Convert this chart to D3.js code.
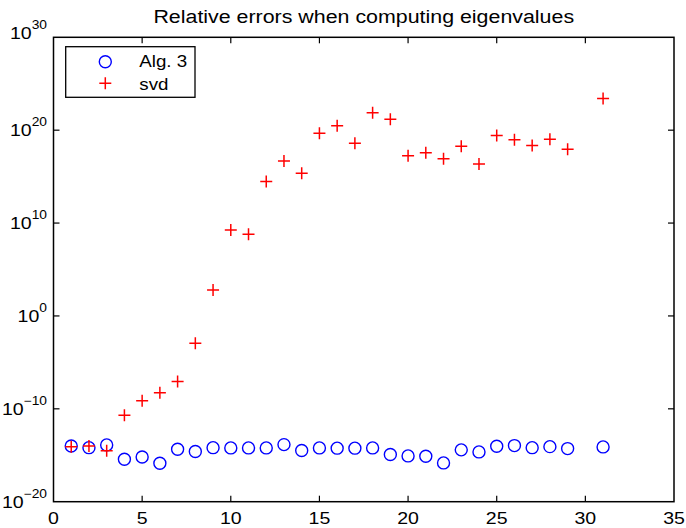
<!DOCTYPE html>
<html><head><meta charset="utf-8">
<script src="https://cdn.jsdelivr.net/npm/d3@7"></script>
<style>body{margin:0;background:#fff}svg{display:block;font-family:"Liberation Sans",Arial,Helvetica,sans-serif}</style>
</head><body><svg id="c" width="686" height="528"></svg>
<script>
const xIdx = [1,2,3,4,5,6,7,8,9,10,11,12,13,14,15,16,17,18,19,20,21,22,23,24,25,26,27,28,29,31];
const alg3 = [1.0e-14,6.6e-15,1.3e-14,3.7e-16,6.6e-16,1.4e-16,4.5e-15,2.5e-15,6.6e-15,6.2e-15,6.2e-15,6.2e-15,1.4e-14,3.2e-15,6.2e-15,5.8e-15,5.8e-15,6.2e-15,1.2e-15,8.5e-16,7.9e-16,1.5e-16,3.8e-15,2.3e-15,9.3e-15,1.1e-14,6.6e-15,8.5e-15,5.2e-15,7.9e-15];
const svd = [8.5e-15,1.0e-14,3.0e-15,2.0e-11,7.6e-10,5.5e-9,8.5e-8,1.15e-3,6.3e2,1.8e9,6.3e8,2.9e14,4.8e16,2.3e15,4.7e19,3.0e20,3.9e18,7.6e21,1.5e21,1.8e17,3.8e17,8.5e16,1.9e18,2.3e16,2.6e19,9.5e18,2.3e18,1.05e19,8.7e17,2.5e23];
const xTicks = [0,5,10,15,20,25,30,35];
const yTickExps = [-20,-10,0,10,20,30];
const title = "Relative errors when computing eigenvalues";
const seriesNames = ["Alg. 3","svd"];

const svg = d3.select("#c");
const L=53.5, R=674, T=37.3, B=501.7;
const SX=1.15;
const x = d3.scaleLinear().domain([0,35]).range([L,R]);
const y = d3.scaleLog().domain([1e-20,1e30]).range([B,T]);

function txt(px,py,size,anchor){
  return svg.append("text").attr("transform",`translate(${px},${py}) scale(${SX},1)`)
    .attr("text-anchor",anchor).attr("font-size",size).attr("fill","#000");
}

const tl = 6;
const g = svg.append("g");
xTicks.forEach(t=>{
  if(t===0||t===35) return;
  g.append("line").attr("x1",x(t)).attr("x2",x(t)).attr("y1",B).attr("y2",B-tl).attr("stroke","#000").attr("stroke-width",1.2);
  g.append("line").attr("x1",x(t)).attr("x2",x(t)).attr("y1",T).attr("y2",T+tl).attr("stroke","#000").attr("stroke-width",1.2);
});
yTickExps.forEach(e=>{
  const v=Math.pow(10,e);
  if(e===-20||e===30) return;
  g.append("line").attr("x1",L).attr("x2",L+tl).attr("y1",y(v)).attr("y2",y(v)).attr("stroke","#000").attr("stroke-width",1.2);
  g.append("line").attr("x1",R).attr("x2",R-tl).attr("y1",y(v)).attr("y2",y(v)).attr("stroke","#000").attr("stroke-width",1.2);
});
svg.append("rect").attr("x",L).attr("y",T).attr("width",R-L).attr("height",B-T).attr("fill","none").attr("stroke","#000").attr("stroke-width",1.5);

// x labels
xTicks.forEach(t=>{
  txt(x(t),524,17,"middle").text(t);
});
// y labels
yTickExps.forEach(e=>{
  const v=Math.pow(10,e);
  let cy=y(v);
  if(e===30) cy-=4;
  const t=txt(47,cy+6,17,"end");
  t.append("tspan").text("10");
  t.append("tspan").attr("dy",-10).attr("font-size",12).text(String(e).replace("-","\u2212"));
});
// title
txt((L+R)/2,23.3,18.6,"middle").text(title);

// data
const pts = xIdx.map((xi,i)=>({x:xi,a:alg3[i],s:svd[i]}));
svg.append("g").selectAll("circle").data(pts).join("circle")
  .attr("cx",d=>x(d.x)).attr("cy",d=>y(d.a)).attr("r",6)
  .attr("fill","none").attr("stroke","#0000ff").attr("stroke-width",1.4);
const ps=6;
svg.append("g").selectAll("path").data(pts).join("path")
  .attr("d",d=>{const cx=x(d.x),cy=y(d.s);return `M${cx-ps},${cy}H${cx+ps}M${cx},${cy-ps}V${cy+ps}`;})
  .attr("stroke","#ff0000").attr("stroke-width",1.5).attr("fill","none");

// legend
const lg = svg.append("g");
lg.append("rect").attr("x",65.7).attr("y",46.7).attr("width",129.3).attr("height",50.6).attr("fill","#fff").attr("stroke","#000").attr("stroke-width",1.3);
lg.append("circle").attr("cx",105.3).attr("cy",61.7).attr("r",6).attr("fill","none").attr("stroke","#0000ff").attr("stroke-width",1.4);
lg.append("path").attr("d",`M${105.3-ps},83.3H${105.3+ps}M105.3,${83.3-ps}V${83.3+ps}`).attr("stroke","#ff0000").attr("stroke-width",1.5);
txt(139.3,66.7,16.3,"start").text(seriesNames[0]);
txt(139.3,90,16.3,"start").text(seriesNames[1]);
</script></body></html>
